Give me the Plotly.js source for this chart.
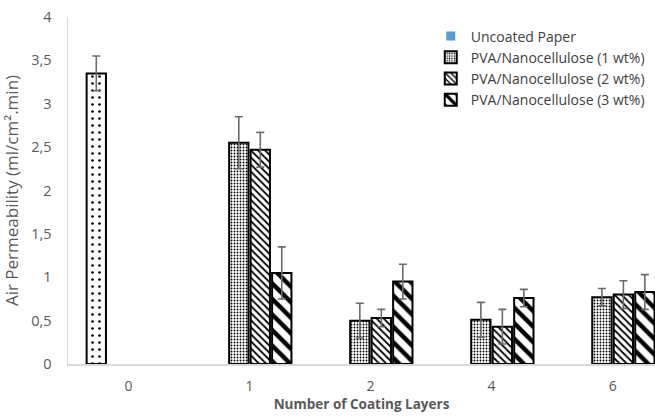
<!DOCTYPE html>
<html>
<head>
<meta charset="utf-8">
<script src="https://cdn.plot.ly/plotly-3.0.1.min.js"></script>
<style>
html,body{margin:0;padding:0;background:#fff;overflow:hidden;}
#chart{width:655px;height:418px;}
</style>
</head>
<body>
<div id="chart"></div>
<script>
// Data
var categories = ["0", "1", "2", "4", "6"];
var seriesNames = ["Uncoated Paper", "PVA/Nanocellulose (1 wt%)", "PVA/Nanocellulose (2 wt%)", "PVA/Nanocellulose (3 wt%)"];
var uncoated = [3.35, null, null, null, null];
var uncoatedErr = [0.2, 0, 0, 0, 0];
var pva1 = [null, 2.55, 0.50, 0.51, 0.77];
var pva1Err = [0, 0.30, 0.20, 0.20, 0.10];
var pva2 = [null, 2.47, 0.53, 0.43, 0.80];
var pva2Err = [0, 0.20, 0.10, 0.20, 0.16];
var pva3 = [null, 1.05, 0.95, 0.76, 0.83];
var pva3Err = [0, 0.30, 0.20, 0.10, 0.20];
var yTicks = [0, 0.5, 1, 1.5, 2, 2.5, 3, 3.5, 4];

var font = "'Open Sans', Lato, sans-serif";
var errStyle = function (arr) {
  return {type: "data", array: arr, visible: true, color: "#6b6b6b", thickness: 1.6, width: 4};
};
var outline = {color: "#000", width: 2};

var traces = [
  {
    type: "scatter", mode: "markers", name: seriesNames[0],
    x: ["0"], y: [-1], cliponaxis: true, hoverinfo: "skip",
    marker: {symbol: "square", size: 9, color: "#5B9BD5"}
  },
  {
    type: "bar", name: seriesNames[0], showlegend: false,
    x: categories, y: uncoated, error_y: errStyle(uncoatedErr),
    marker: {color: "#fff", line: outline,
      pattern: {shape: ".", size: 7, solidity: 0.12, fgcolor: "#000", bgcolor: "#fff"}}
  },
  {
    type: "bar", name: seriesNames[1],
    x: categories, y: pva1, error_y: errStyle(pva1Err),
    marker: {color: "#fff", line: outline,
      pattern: {shape: ".", size: 3, solidity: 0.3, fgcolor: "#000", bgcolor: "#fff"}}
  },
  {
    type: "bar", name: seriesNames[2],
    x: categories, y: pva2, error_y: errStyle(pva2Err),
    marker: {color: "#fff", line: outline,
      pattern: {shape: "\\", size: 5, solidity: 0.35, fgcolor: "#000", bgcolor: "#fff"}}
  },
  {
    type: "bar", name: seriesNames[3],
    x: categories, y: pva3, error_y: errStyle(pva3Err),
    marker: {color: "#fff", line: outline,
      pattern: {shape: "\\", size: 11, solidity: 0.4, fgcolor: "#000", bgcolor: "#fff"}}
  }
];

var layout = {
  width: 655, height: 418,
  margin: {l: 68, r: 0, t: 17, b: 54, pad: 0},
  paper_bgcolor: "#fff", plot_bgcolor: "#fff",
  separators: ", ",
  font: {family: font, color: "#595959", size: 13},
  barmode: "group",
  bargap: 0.29,
  bargroupgap: 0.1,
  showlegend: true,
  legend: {
    x: 0.618, xanchor: "left", y: 0.99, yanchor: "top",
    bgcolor: "rgba(0,0,0,0)", font: {family: font, size: 14, color: "#404040"},
    itemwidth: 30, tracegroupgap: 0
  },
  xaxis: {
    type: "category", categoryarray: categories, categoryorder: "array",
    range: [-0.5, 4.35], showgrid: false, zeroline: false,
    showline: true, linecolor: "#d9d9d9", linewidth: 1.5,
    ticks: "", ticklabelstandoff: 9,
    tickfont: {family: font, size: 14, color: "#595959"},
    title: {text: "<b>Number of Coating Layers</b>", standoff: 3,
      font: {family: font, size: 13.5, color: "#595959"}}
  },
  yaxis: {
    range: [0, 4], tickvals: yTicks, showgrid: false, zeroline: false,
    showline: true, linecolor: "#d6dde8", linewidth: 1.5,
    ticks: "", ticklabelstandoff: 12,
    tickfont: {family: font, size: 14.5, color: "#595959"},
    title: {text: "Air Permeability (ml/cm².min)", standoff: 9,
      font: {family: font, size: 17, color: "#595959"}}
  }
};

Plotly.newPlot("chart", traces, layout, {displayModeBar: false, staticPlot: true});
</script>
</body>
</html>
